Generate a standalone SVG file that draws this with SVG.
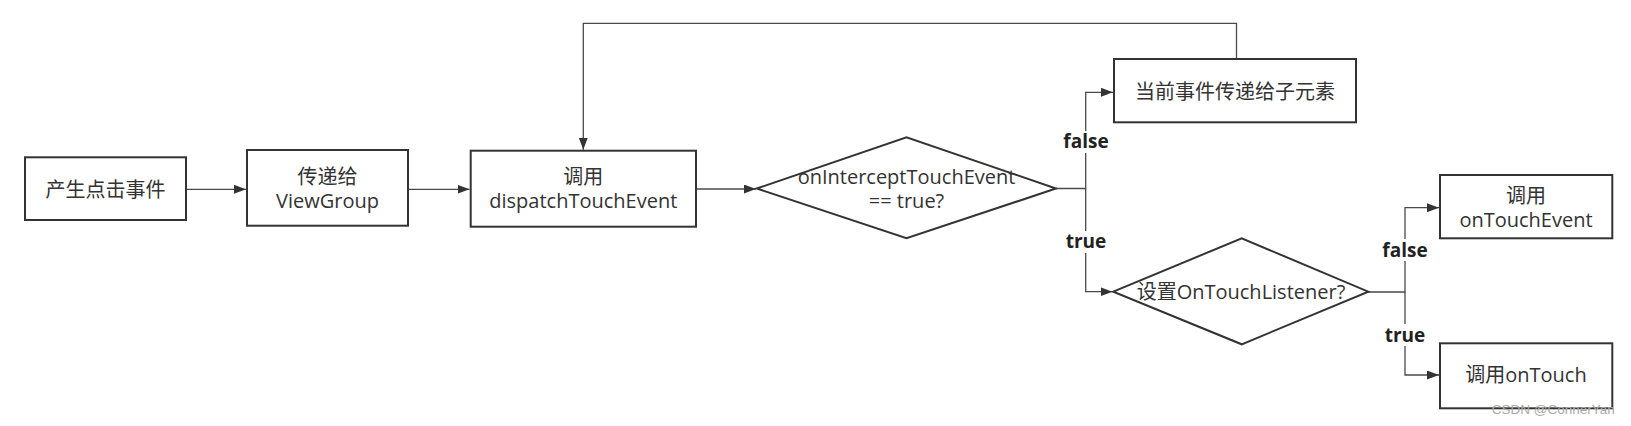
<svg xmlns="http://www.w3.org/2000/svg" width="1631" height="426" viewBox="0 0 1631 426">
<defs>
<style>
.box{fill:#fff;stroke:#333;stroke-width:2}
.con{fill:none;stroke:#4a4a4a;stroke-width:1.3}
.t{font-family:"Open Sans","Noto Sans CJK SC",sans-serif;font-size:20px;fill:#333;text-anchor:middle}
.lbl{font-family:"Open Sans","Noto Sans",sans-serif;font-weight:700;font-size:19px;fill:#222;text-anchor:middle}
.lblbg{fill:#fff;stroke:none}
.wm{font-family:"Liberation Sans",Arial,sans-serif;font-size:13.5px;fill:#aaa}
</style>
<marker id="arr" markerUnits="userSpaceOnUse" markerWidth="12" markerHeight="9" refX="12" refY="4.5" orient="auto">
<path d="M0,0 L12,4.5 L0,9 Z" fill="#333"/>
</marker>
</defs>
<rect width="1631" height="426" fill="#fff"/>

<g id="connectors">
<path class="con" d="M186,189.3 H246" marker-end="url(#arr)"/>
<path class="con" d="M408,189.3 H469.5" marker-end="url(#arr)"/>
<path class="con" d="M696,189 H756" marker-end="url(#arr)"/>
<path class="con" d="M1056,188.5 H1085.7 V92.3 H1113" marker-end="url(#arr)"/>
<path class="con" d="M1085.7,188.5 V291.7 H1112.5" marker-end="url(#arr)"/>
<path class="con" d="M1236.5,59 V23.3 H583.3 V149.7" marker-end="url(#arr)"/>
<path class="con" d="M1368.3,292 H1405 V207.7 H1439" marker-end="url(#arr)"/>
<path class="con" d="M1405,292 V375 H1439" marker-end="url(#arr)"/>
</g>

<g id="labels">
<rect class="lblbg" x="1062" y="131" width="48" height="22"/>
<text class="lbl" x="1086" y="148">false</text>
<rect class="lblbg" x="1065" y="231" width="42" height="22"/>
<text class="lbl" x="1086" y="248.3">true</text>
<rect class="lblbg" x="1381" y="239" width="48" height="22"/>
<text class="lbl" x="1405" y="256.5">false</text>
<rect class="lblbg" x="1384" y="324" width="42" height="22"/>
<text class="lbl" x="1405" y="341.5">true</text>
</g>

<g id="node-generate">
<rect class="box" x="25" y="157.3" width="161" height="62.7"/>
<text class="t" x="105.5" y="196.5">产生点击事件</text>
</g>

<g id="node-viewgroup">
<rect class="box" x="247" y="150" width="161" height="75.7"/>
<text class="t" x="327.5" y="183.5">传递给</text>
<text class="t" x="327.5" y="208.3">ViewGroup</text>
</g>

<g id="node-dispatch">
<rect class="box" x="470.7" y="150.7" width="225.3" height="76"/>
<text class="t" x="583.3" y="184">调用</text>
<text class="t" x="583.3" y="207.5">dispatchTouchEvent</text>
</g>

<g id="node-intercept">
<polygon class="box" points="756.7,188.5 906.5,137.3 1056,188.5 906.5,238.3"/>
<text class="t" x="906.5" y="184">onInterceptTouchEvent</text>
<text class="t" x="906.5" y="208.3">== true?</text>
</g>

<g id="node-child">
<rect class="box" x="1114" y="59" width="242" height="63.3"/>
<text class="t" x="1235" y="99.3">当前事件传递给子元素</text>
</g>

<g id="node-listener">
<polygon class="box" points="1113.3,291.7 1241.7,238.3 1368.3,291.7 1241.7,344.3"/>
<text class="t" x="1241" y="299.3">设置OnTouchListener?</text>
</g>

<g id="node-ontouchevent">
<rect class="box" x="1440" y="175" width="172.3" height="63.3"/>
<text class="t" x="1526" y="203">调用</text>
<text class="t" x="1526" y="226.5">onTouchEvent</text>
</g>

<g id="node-ontouch">
<rect class="box" x="1440" y="343.3" width="172.3" height="65"/>
<text class="t" x="1526" y="382.3">调用onTouch</text>
</g>

<text class="wm" x="1491.7" y="414">CSDN @ConnerYan</text>
</svg>
